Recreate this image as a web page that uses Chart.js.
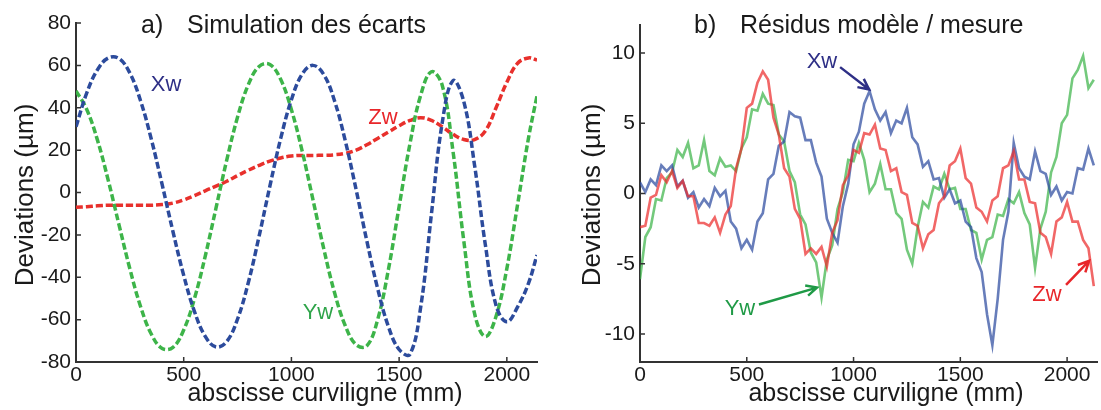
<!DOCTYPE html>
<html>
<head>
<meta charset="utf-8">
<script src="https://cdn.jsdelivr.net/npm/chart.js@4.4.1/dist/chart.umd.min.js"></script>
<style>
  body { margin: 0; background: #fff; }
  #wrap { position: relative; width: 1101px; height: 410px; }
  canvas { position: absolute; top: 0; }
</style>
</head>
<body>
<div id="wrap">
  <canvas id="chartA" width="550" height="410" style="left:0"></canvas>
  <canvas id="chartB" width="551" height="410" style="left:550px"></canvas>
</div>
<script>
const FONT = '"Liberation Sans", Arial, Helvetica, sans-serif';

// a) Simulation des écarts  (abscisse en mm, écarts en µm)
const xA = [0, 50, 100, 150, 200, 250, 300, 350, 400, 450, 500, 550, 600, 650, 700, 750, 800, 850, 900, 950,
  1000, 1050, 1100, 1150, 1200, 1250, 1300, 1350, 1400, 1450, 1500, 1550, 1600, 1650, 1700, 1750, 1800, 1850, 1900, 1950,
  2000, 2050, 2100, 2140];
const xwA = [31, 47, 58, 63.5, 63.2, 56.4, 43.2, 25.0, 3.7, -18.4, -39.1, -56.2, -67.9, -72.9, -70.3, -59.7, -42.5, -20.6, 3.0, 25.4,
  43.8, 55.9, 60, 55.7, 43.3, 24.4, 1.5, -22.8, -45.2, -63.2, -74.1, -76.4, -54.1, -10.1, 32.9, 52.8, 43.0, 13.0, -24.5, -53.3,
  -61, -54, -43, -29.5];
const ywA = [48, 39.2, 24.6, 5.6, -15.4, -36.0, -53.9, -66.9, -73.6, -73.1, -64.9, -50.0, -30.0, -7.3, 15.4, 35.6, 50.9, 59.5, 60.4, 53.4,
  39.1, 19.5, -3.4, -26.5, -47.2, -62.9, -71.8, -72.4, -60.1, -36.5, -6.6, 22.9, 45.9, 57.0, 50.6, 19.5, -22.7, -57.1, -68.0, -58.4,
  -35.9, -5.6, 25.4, 45.6];
const zwA = [-7, -6.7, -6.3, -6, -6, -6, -6, -6, -5.7, -5, -3.5, -1.5, 0.8, 3, 5.3, 8, 10.5, 12.8, 14.8, 16.3,
  17.2, 17.5, 17.5, 17.6, 17.8, 18.5, 20, 22.5, 25.5, 28.5, 31.5, 34, 35.3, 34, 31, 27.5, 25, 25, 29, 40,
  52, 61, 63.5, 62.5];
const xTicksA = [0, 500, 1000, 1500, 2000];
const yTicksA = [-80, -60, -40, -20, 0, 20, 40, 60, 80];

// b) Résidus modèle / mesure
const xB = [0, 25, 50, 75, 100, 125, 150, 175, 200, 225, 250, 275, 300, 325, 350, 375, 400, 425, 450, 475,
  500, 525, 550, 575, 600, 625, 650, 675, 700, 725, 750, 775, 800, 825, 850, 875, 900, 925, 950, 975,
  1000, 1025, 1050, 1075, 1100, 1125, 1150, 1175, 1200, 1225, 1250, 1275, 1300, 1325, 1350, 1375, 1400, 1425, 1450, 1475,
  1500, 1525, 1550, 1575, 1600, 1625, 1650, 1675, 1700, 1725, 1750, 1775, 1800, 1825, 1850, 1875, 1900, 1925, 1950, 1975,
  2000, 2025, 2050, 2075, 2100, 2125];
const xwB = [0.8, 0.1, 1.0, 0.6, 2.0, 1.6, 2.0, 0.5, 0.9, -0.3,
  0.1, -1.0, -0.4, -0.9, 0.4, -0.2, 0.2, -2.0, -2.5, -3.9,
  -3.3, -4.0, -2.0, -1.4, 1.0, 1.4, 3.4, 3.7, 5.8, 5.5,
  5.4, 3.8, 3.8, 2.2, 1.2, -1.8, -2.8, -3.5, -0.9, 0.7,
  3.5, 4.4, 6.4, 7.3, 6.0, 5.2, 5.8, 4.3, 5.2, 5.0,
  6.1, 4.0, 3.5, 1.9, 2.3, 1.0, 1.1, -0.3, 0.3, -0.7,
  -0.5, -2.0, -2.4, -4.6, -5.6, -8.6, -10.8, -7.5, -3.3, -1.3,
  3.6, 1.8, 1.2, 1.0, 3.0, 1.6, 1.4, -0.1, 0.5, -0.5,
  0.1, 0.0, 1.8, 1.7, 3.2, 2.0];
const ywB = [-6.1, -3.1, -2.4, -0.4, -0.5, 1.1, 1.5, 3.1, 2.6, 3.6,
  1.8, 2.0, 3.8, 1.6, 1.3, 2.5, 1.9, 2.0, 1.6, 3.2,
  4.0, 6.0, 5.9, 7.1, 6.4, 6.3, 4.2, 3.7, 1.6, 0.8,
  -1.5, -2.2, -4.2, -4.9, -7.4, -4.7, -3.7, -1.1, 0.1, 2.4,
  2.3, 3.6, 2.4, 0.1, 0.7, 2.1, 0.3, 0.3, -1.4, -1.8,
  -4.0, -5.0, -2.4, -0.6, -1.0, 0.5, 0.3, 1.4, 0.3, 0.4,
  -1.1, -1.1, -2.6, -2.8, -4.7, -3.3, -3.1, -1.5, -1.6, -0.4,
  -0.7, 0.1, -1.4, -2.2, -5.3, -2.5, -1.3, 1.5, 2.6, 5.0,
  5.6, 8.2, 8.8, 9.8, 7.5, 8.1];
const zwB = [-2.4, -2.3, -0.3, -0.1, 1.3, 0.8, 1.6, 0.4, 0.9, -0.2,
  -0.2, -2.1, -2.1, -2.3, -1.7, -2.8, -1.5, -0.9, 1.8, 3.2,
  6.1, 6.4, 7.9, 8.7, 8.1, 5.4, 4.2, 1.8, 1.2, -1.1,
  -1.8, -4.3, -3.9, -4.3, -3.8, -5.2, -2.8, -1.9, 0.6, 1.3,
  3.1, 2.9, 4.3, 4.2, 4.9, 3.2, 3.1, 1.6, 1.8, 0.1,
  -0.1, -2.1, -2.3, -3.9, -2.9, -2.6, -0.7, -0.2, 2.0, 2.3,
  3.2, 1.1, 0.7, -1.0, -1.3, -2.0, -0.5, -0.2, 1.8, 2.0,
  3.0, 1.0, 1.0, -0.6, -0.7, -2.8, -3.1, -4.3, -2.0, -1.7,
  -0.6, -2.0, -2.0, -3.3, -3.9, -6.6];
const xTicksB = [0, 500, 1000, 1500, 2000];
const yTicksB = [-10, -5, 0, 5, 10];

const BLUE = '#2c4b9c', GREEN = '#3db449', RED = '#e8302c';

function pts(xs, ys) {
  return xs.map((x, i) => ({ x: x, y: ys[i] }));
}

function axis(min, max, ticks, isX, size) {
  return {
    type: 'linear',
    min: min,
    max: max,
    grid: { display: false, drawTicks: false },
    border: { display: true, color: '#333', width: 2 },
    ticks: {
      color: '#1a1a1a', font: { family: FONT, size: 21 }, padding: isX ? 1 : 5,
      maxRotation: 0, autoSkip: false, callback: v => String(v)
    },
    afterBuildTicks: s => { s.ticks = ticks.map(v => ({ value: v })); },
    afterFit: s => { if (isX) s.height = size; else s.width = size; }
  };
}

// inward tick marks, titles, axis titles and series labels
function decor(cfg) {
  return {
    id: 'decor',
    afterDraw(chart) {
      const ctx = chart.ctx, a = chart.chartArea, x = chart.scales.x, y = chart.scales.y;
      ctx.save();
      ctx.strokeStyle = '#333';
      ctx.lineWidth = 1.5;
      ctx.beginPath();
      x.ticks.forEach(t => {
        const p = x.getPixelForValue(t.value);
        ctx.moveTo(p, a.bottom); ctx.lineTo(p, a.bottom - 5);
      });
      y.ticks.forEach(t => {
        const p = y.getPixelForValue(t.value);
        ctx.moveTo(a.left, p); ctx.lineTo(a.left + 5, p);
      });
      ctx.stroke();

      ctx.fillStyle = '#1a1a1a';
      ctx.font = '25px ' + FONT;
      ctx.textAlign = 'left';
      ctx.textBaseline = 'alphabetic';
      ctx.fillText(cfg.tag, cfg.tagX, 33);
      ctx.fillText(cfg.title, cfg.titleX, 33);

      ctx.textAlign = 'center';
      ctx.fillText('abscisse curviligne (mm)', cfg.xTitleX, 401);
      ctx.save();
      ctx.translate(cfg.yTitleX, 195);
      ctx.rotate(-Math.PI / 2);
      ctx.font = '26px ' + FONT;
      ctx.fillText('Deviations (µm)', 0, 0);
      ctx.restore();

      ctx.font = '22px ' + FONT;
      ctx.textBaseline = 'middle';
      cfg.labels.forEach(l => {
        ctx.fillStyle = l.color;
        ctx.fillText(l.text, x.getPixelForValue(l.x), y.getPixelForValue(l.y));
        if (l.arrow) {
          const [x1, y1, x2, y2] = l.arrow;
          const px1 = x.getPixelForValue(x1), py1 = y.getPixelForValue(y1);
          const px2 = x.getPixelForValue(x2), py2 = y.getPixelForValue(y2);
          const ang = Math.atan2(py2 - py1, px2 - px1);
          ctx.strokeStyle = l.color;
          ctx.lineWidth = 2.5;
          ctx.beginPath();
          ctx.moveTo(px1, py1); ctx.lineTo(px2, py2);
          ctx.moveTo(px2 - 12 * Math.cos(ang - 0.45), py2 - 12 * Math.sin(ang - 0.45));
          ctx.lineTo(px2, py2);
          ctx.lineTo(px2 - 12 * Math.cos(ang + 0.45), py2 - 12 * Math.sin(ang + 0.45));
          ctx.stroke();
        }
      });
      ctx.restore();
    }
  };
}

function dashed(label, data, color) {
  return {
    label: label, data: data, borderColor: color, borderWidth: 3.5, borderDash: [7, 3],
    pointRadius: 0, tension: 0.4, fill: false
  };
}

function noisy(label, data, color, order) {
  return {
    label: label, data: data, borderColor: color, borderWidth: 2.6,
    pointRadius: 0, tension: 0, fill: false, order: order
  };
}

const common = {
  responsive: false,
  animation: false,
  devicePixelRatio: 1,
  plugins: { legend: { display: false }, tooltip: { enabled: false } }
};

new Chart(document.getElementById('chartA'), {
  type: 'line',
  data: {
    datasets: [
      dashed('Xw', pts(xA, xwA), BLUE),
      dashed('Yw', pts(xA, ywA), GREEN),
      dashed('Zw', pts(xA, zwA), RED)
    ]
  },
  options: Object.assign({}, common, {
    layout: { padding: { top: 23, right: 13, left: 0, bottom: 0 } },
    scales: {
      x: axis(0, 2140, xTicksA, true, 48),
      y: axis(-80, 80, yTicksA, false, 76)
    }
  }),
  plugins: [decor({
    tag: 'a)', tagX: 141, title: 'Simulation des écarts', titleX: 187,
    xTitleX: 325, yTitleX: 33,
    labels: [
      { text: 'Xw', color: '#2e2f86', x: 418, y: 51 },
      { text: 'Zw', color: '#e8262a', x: 1425, y: 35 },
      { text: 'Yw', color: '#2ea449', x: 1123, y: -57 }
    ]
  })]
});

new Chart(document.getElementById('chartB'), {
  type: 'line',
  data: {
    datasets: [
      noisy('Xw', pts(xB, xwB), 'rgba(44,75,160,0.72)', 1),
      noisy('Yw', pts(xB, ywB), 'rgba(61,180,73,0.72)', 2),
      noisy('Zw', pts(xB, zwB), 'rgba(235,45,45,0.72)', 0)
    ]
  },
  options: Object.assign({}, common, {
    layout: { padding: { top: 25, right: 4, left: 0, bottom: 0 } },
    scales: {
      x: axis(0, 2140, xTicksB, true, 48),
      y: axis(-12, 12, yTicksB, false, 90)
    }
  }),
  plugins: [decor({
    tag: 'b)', tagX: 144, title: 'Résidus modèle / mesure', titleX: 190,
    xTitleX: 336, yTitleX: 50,
    labels: [
      { text: 'Xw', color: '#2e2f86', x: 852, y: 9.4, arrow: [937, 9.0, 1073, 7.4] },
      { text: 'Yw', color: '#1f9a46', x: 468, y: -8.2, arrow: [557, -7.9, 829, -6.7] },
      { text: 'Zw', color: '#e8262a', x: 1906, y: -7.2, arrow: [1995, -6.5, 2103, -4.8] }
    ]
  })]
});
</script>
</body>
</html>
